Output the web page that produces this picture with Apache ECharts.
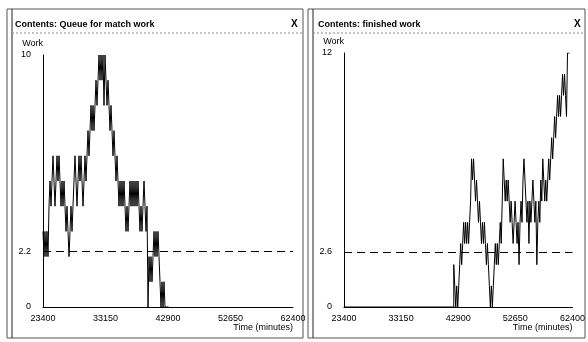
<!DOCTYPE html>
<html>
<head>
<meta charset="utf-8">
<script src="https://cdn.jsdelivr.net/npm/echarts@6/dist/echarts.min.js"></script>
<style>
  html, body { margin: 0; padding: 0; background: #fff; }
  #chart { width: 588px; height: 342px; }
</style>
</head>
<body>
<div id="chart"></div>
<script>
// 两个窗口: 等待匹配的工作队列 / 已完成的工作
var timeTicks = [23400, 33150, 42900, 52650, 62400];
var queueTicks = [0, 2.2, 10];
var finishedTicks = [0, 2.6, 12];
var queueMean = 2.2;
var finishedMean = 2.6;

// 队列长度 [时间(分钟), 工作数]
var queueWork = [
  [23400, 3], [23556, 2], [23712, 3], [23868, 2], [24024, 3], [24180, 2],
  [24336, 4], [24492, 5], [24648, 4], [24804, 5], [24960, 6], [25116, 5],
  [25272, 4], [25428, 5], [25584, 6], [25740, 5], [25896, 6], [26052, 5],
  [26208, 4], [26364, 5], [26520, 4], [26676, 5], [26832, 4], [26988, 3],
  [27144, 4], [27300, 3], [27456, 2], [27612, 3], [27768, 4], [27924, 3],
  [28080, 4], [28236, 5], [28392, 6], [28548, 5], [28704, 4], [28860, 5],
  [29016, 6], [29172, 5], [29328, 6], [29484, 5], [29640, 4], [29796, 5],
  [29952, 6], [30108, 5], [30264, 6], [30420, 7], [30576, 6], [30732, 7],
  [30888, 8], [31044, 7], [31200, 8], [31356, 7], [31512, 8], [31668, 9],
  [31824, 8], [31980, 9], [32136, 10], [32292, 9], [32448, 10], [32604, 9],
  [32760, 10], [32916, 8], [33072, 10], [33228, 9], [33384, 8], [33540, 9],
  [33696, 8], [33852, 7], [34008, 8], [34164, 7], [34320, 6], [34476, 7],
  [34632, 6], [34788, 5], [34944, 6], [35100, 5], [35256, 4], [35412, 5],
  [35568, 4], [35724, 5], [35880, 4], [36036, 5], [36192, 4], [36348, 3],
  [36504, 4], [36660, 3], [36816, 4], [36972, 5], [37128, 4], [37284, 5],
  [37440, 4], [37596, 5], [37752, 4], [37908, 5], [38064, 4], [38220, 5],
  [38376, 4], [38532, 3], [38688, 4], [38844, 3], [39000, 4], [39156, 5],
  [39312, 4], [39468, 3], [39624, 4], [39780, 0], [39936, 2], [40092, 1],
  [40248, 2], [40404, 1], [40560, 2], [40716, 3], [40872, 2], [41028, 3],
  [41184, 2], [41340, 3], [41496, 2], [41652, 1], [41808, 0], [41964, 1],
  [42120, 0], [42276, 1], [42432, 0], [43000, 0]
];

// 已完成工作 [时间(分钟), 工作数]
var finishedWork = [
  [23400, 0], [42137, 2], [42306, 1], [42474, 0], [42643, 1], [42812, 0],
  [42981, 1], [43150, 2], [43318, 3], [43487, 2], [43656, 3], [43825, 4],
  [43994, 3], [44163, 4], [44331, 3], [44500, 4], [44669, 3], [44838, 4],
  [45007, 5], [45175, 7], [45344, 6], [45513, 7], [45682, 6], [45851, 5],
  [46019, 6], [46188, 5], [46357, 4], [46526, 5], [46695, 4], [46863, 3],
  [47032, 4], [47201, 3], [47370, 4], [47539, 3], [47707, 2], [47876, 3],
  [48045, 2], [48214, 1], [48383, 0], [48551, 1], [48720, 0], [48889, 1],
  [49058, 2], [49227, 3], [49395, 2], [49564, 3], [49733, 2], [49902, 3],
  [50071, 4], [50239, 3], [50408, 5], [50577, 7], [50746, 6], [50915, 5],
  [51083, 6], [51252, 5], [51421, 6], [51590, 5], [51759, 4], [51927, 5],
  [52096, 4], [52265, 3], [52434, 4], [52603, 5], [52771, 4], [52940, 3],
  [53109, 4], [53278, 2], [53447, 4], [53615, 5], [53784, 4], [53953, 6],
  [54122, 7], [54291, 6], [54459, 5], [54628, 4], [54797, 5], [54966, 3],
  [55135, 5], [55303, 4], [55472, 5], [55641, 6], [55810, 5], [55979, 4],
  [56147, 5], [56316, 2], [56485, 4], [56654, 5], [56823, 4], [56991, 6],
  [57160, 5], [57329, 7], [57498, 6], [57667, 5], [57835, 6], [58004, 5],
  [58173, 6], [58342, 7], [58511, 6], [58679, 7], [58848, 8], [59017, 7],
  [59186, 8], [59355, 9], [59523, 8], [59692, 9], [59861, 10], [60030, 9],
  [60199, 10], [60367, 9], [60536, 10], [60705, 11], [60874, 10], [61043, 11],
  [61211, 10], [61380, 9], [61549, 12], [61718, 12], [61887, 12]
];

var chart = echarts.init(document.getElementById('chart'), null, { renderer: 'canvas' });

var font = "'Liberation Sans', Arial, sans-serif";

function xAxisOf(idx) {
  return {
    type: 'value',
    gridIndex: idx,
    min: 23400,
    max: 62400,
    name: 'Time (minutes)',
    nameLocation: 'end',
    nameGap: 0,
    nameTextStyle: {
      color: '#000', fontSize: 9, fontFamily: font,
      align: 'right', verticalAlign: 'top', padding: [16, 0, 0, 0]
    },
    splitLine: { show: false },
    axisLine: { lineStyle: { color: '#000', width: 1 } },
    axisTick: { show: false },
    axisLabel: {
      customValues: timeTicks,
      formatter: function (v) { return String(v); },
      color: '#000', fontSize: 9, fontFamily: font, margin: 7,
      showMaxLabel: true
    }
  };
}

function yAxisOf(idx, max, ticks) {
  return {
    type: 'value',
    gridIndex: idx,
    min: 0,
    max: max,
    name: 'Work',
    nameLocation: 'end',
    nameGap: 7,
    nameTextStyle: {
      color: '#000', fontSize: 9, fontFamily: font, align: 'right'
    },
    splitLine: { show: false },
    axisLine: { show: true, lineStyle: { color: '#000', width: 1 } },
    axisTick: { show: false },
    axisLabel: {
      customValues: ticks,
      formatter: function (v) { return String(v); },
      color: '#000', fontSize: 9, fontFamily: font, margin: 12
    }
  };
}

function frame(x1, x2) {
  return [
    { type: 'rect', shape: { x: x1, y: 9, width: x2 - x1, height: 329 },
      style: { fill: 'none', stroke: '#555', lineWidth: 1 } },
    { type: 'line', shape: { x1: x1 + 5, y1: 9, x2: x1 + 5, y2: 338 },
      style: { stroke: '#222', lineWidth: 1 } },
    { type: 'line', shape: { x1: x1 + 5, y1: 33, x2: x2, y2: 33 },
      style: { stroke: '#888', lineWidth: 1, lineDash: [2, 2] } }
  ];
}

var option = {
  backgroundColor: '#fff',
  animation: false,
  grid: [
    { left: 43, right: 295, top: 55, bottom: 35 },
    { left: 344, right: 13, top: 53, bottom: 35 }
  ],
  xAxis: [xAxisOf(0), xAxisOf(1)],
  yAxis: [yAxisOf(0, 10, queueTicks), yAxisOf(1, 12, finishedTicks)],
  graphic: frame(7, 303).concat(frame(308, 585)).concat([
    { type: 'text', left: 15, top: 20,
      style: { text: 'Contents: Queue for match work', fill: '#000',
        font: 'bold 9px ' + font } },
    { type: 'text', left: 291, top: 19,
      style: { text: 'X', fill: '#000', font: 'bold 10px ' + font } },
    { type: 'text', left: 318, top: 20,
      style: { text: 'Contents: finished work', fill: '#000',
        font: 'bold 9px ' + font } },
    { type: 'text', left: 574, top: 19,
      style: { text: 'X', fill: '#000', font: 'bold 10px ' + font } }
  ]),
  series: [
    {
      type: 'line',
      xAxisIndex: 0, yAxisIndex: 0,
      step: 'end',
      showSymbol: false,
      lineStyle: { color: '#000', width: 1 },
      data: queueWork,
      markLine: {
        silent: true, symbol: 'none', label: { show: false },
        lineStyle: { color: '#000', width: 1, type: [8, 5] },
        data: [{ yAxis: queueMean }]
      }
    },
    {
      type: 'line',
      xAxisIndex: 1, yAxisIndex: 1,
      step: 'end',
      showSymbol: false,
      lineStyle: { color: '#000', width: 1 },
      data: finishedWork,
      markLine: {
        silent: true, symbol: 'none', label: { show: false },
        lineStyle: { color: '#000', width: 1, type: [8, 5] },
        data: [{ yAxis: finishedMean }]
      }
    }
  ]
};

chart.setOption(option);
</script>
</body>
</html>
